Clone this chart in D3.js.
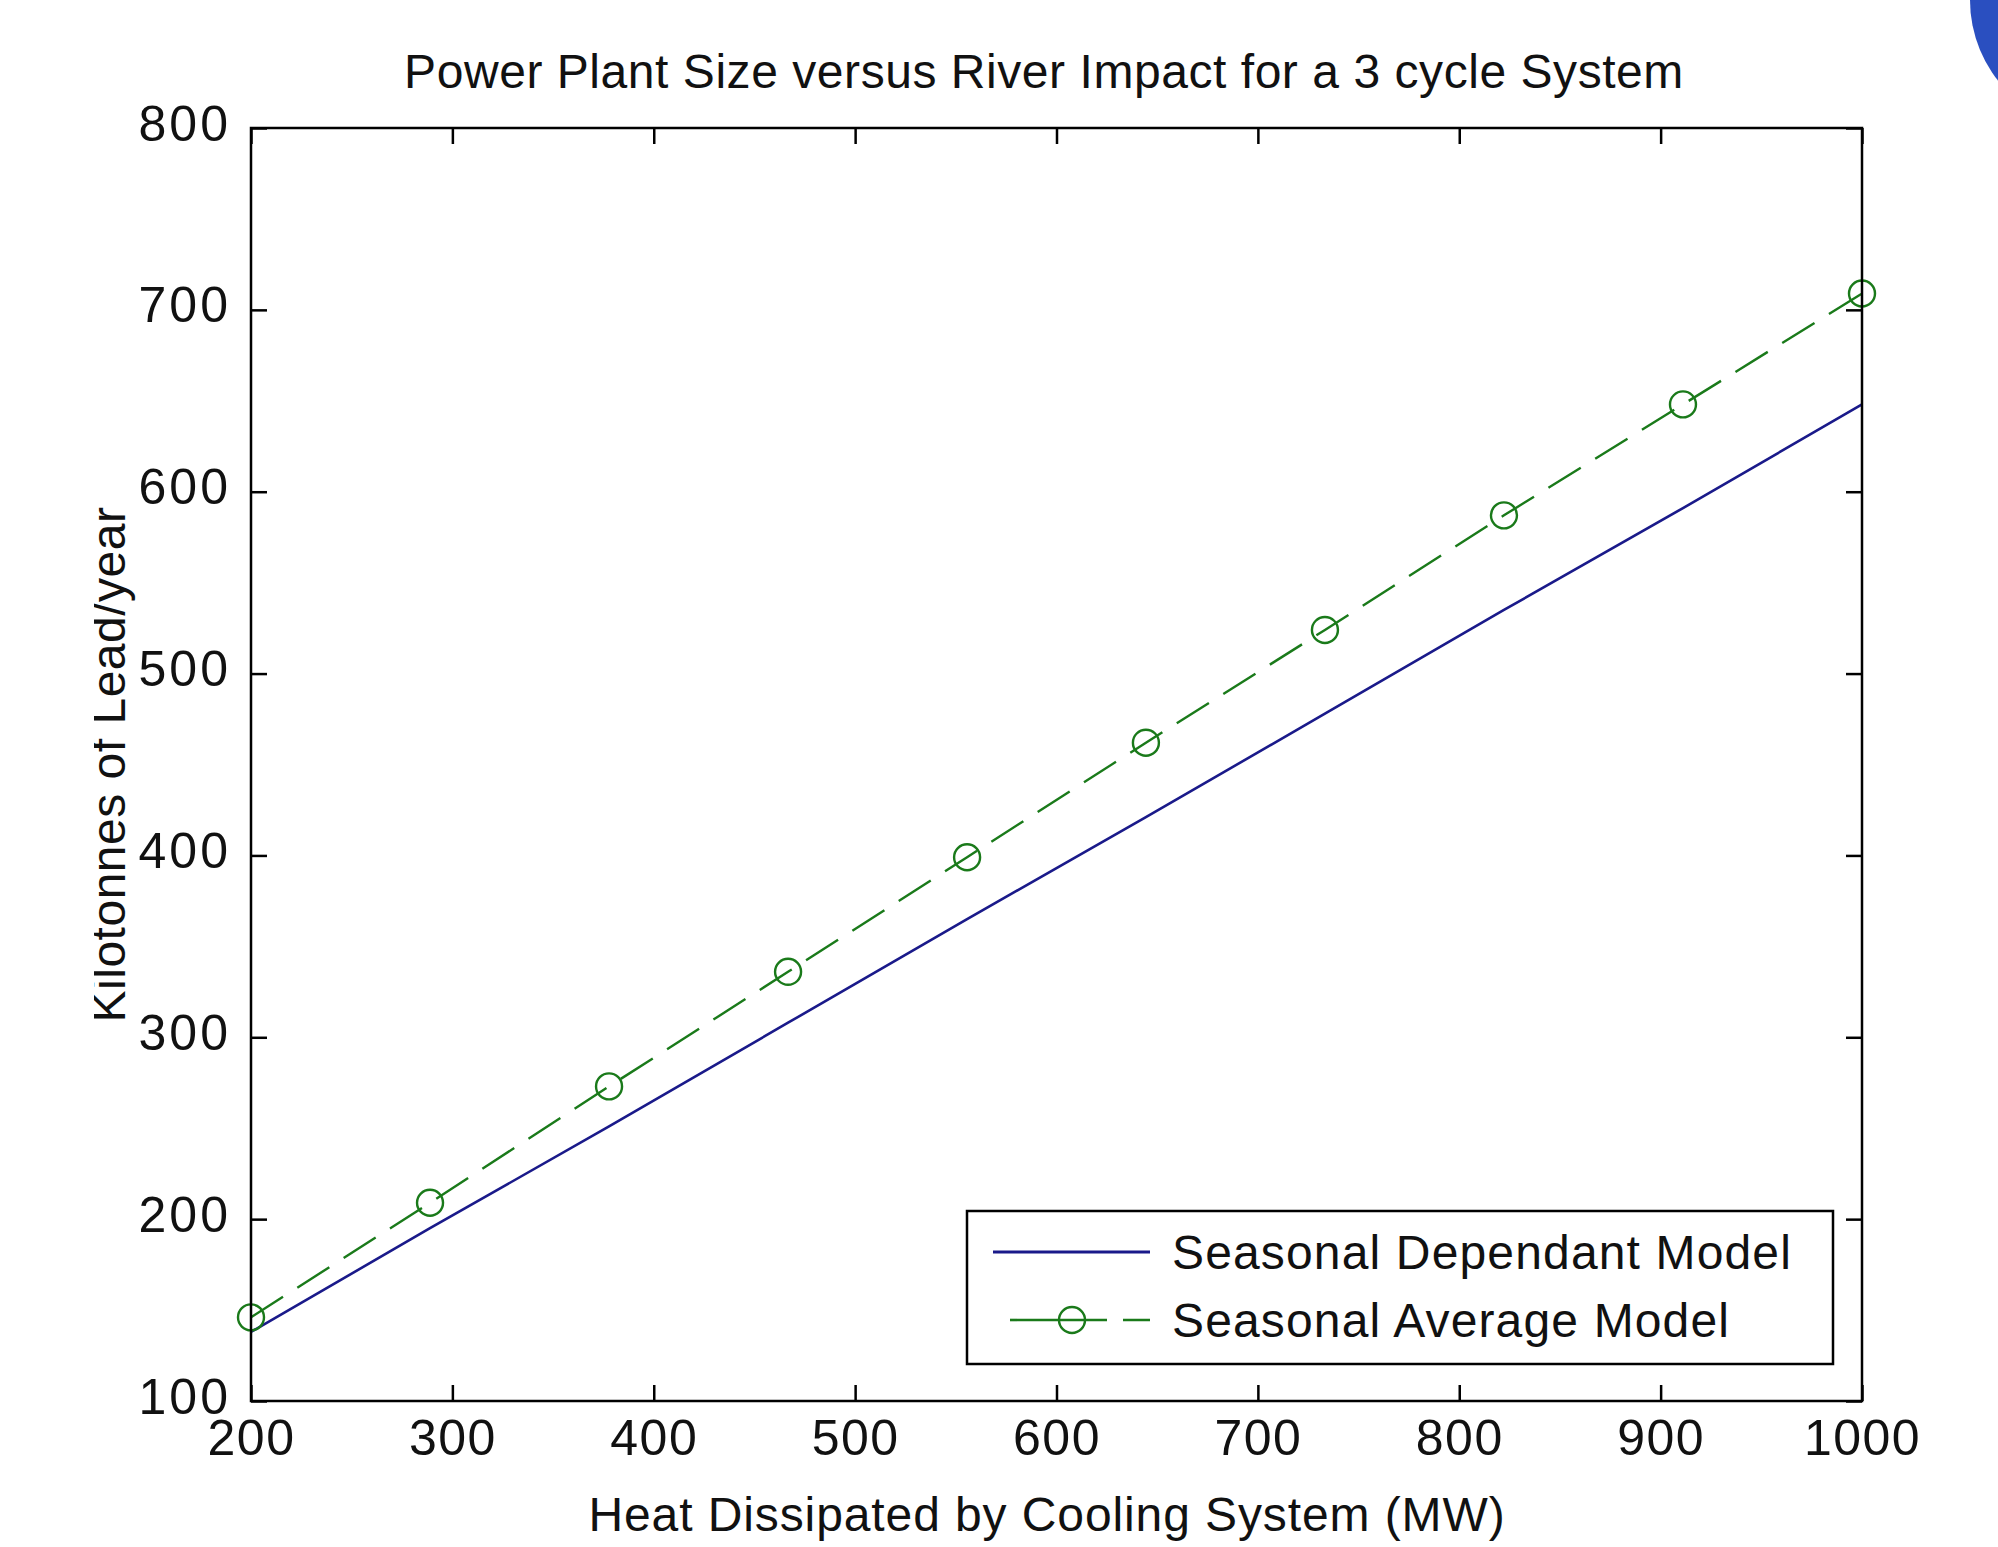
<!DOCTYPE html>
<html>
<head>
<meta charset="utf-8">
<script src="https://cdn.jsdelivr.net/npm/d3@7"></script>
<style>
  html, body { margin: 0; padding: 0; background: #fff; }
  svg { display: block; }
  text { font-family: "Liberation Sans", Arial, sans-serif; fill: #111; }
</style>
</head>
<body>
<script>
// ---- data ----
const heatMW = [200, 288.9, 377.8, 466.7, 555.6, 644.4, 733.3, 822.2, 911.1, 1000];
const seasonalDependant = [138, 195, 251, 308, 365, 421, 478, 535, 591, 648];
const seasonalAverage = [146, 209, 273, 336, 399, 462, 524, 587, 648, 709];
const xTicks = [200, 300, 400, 500, 600, 700, 800, 900, 1000];
const yTicks = [100, 200, 300, 400, 500, 600, 700, 800];
const seriesNames = ["Seasonal Dependant Model", "Seasonal Average Model"];
const titleText = "Power Plant Size versus River Impact for a 3 cycle System";
const xLabel = "Heat Dissipated by Cooling System (MW)";
const yLabel = "Kilotonnes of Lead/year";

// ---- layout ----
const W = 1998, H = 1547;
const L = 251, R = 1862, T = 128, B = 1401;
const FS = 48;
const blue = "#1a1a8a", green = "#1a7a1a";

const svg = d3.select("body").append("svg").attr("width", W).attr("height", H);
svg.append("rect").attr("width", W).attr("height", H).attr("fill", "#fff");

// stray blue corner shape seen in the picture
svg.append("circle").attr("cx", 2100).attr("cy", 0).attr("r", 130).attr("fill", "#2a4fc0");

const x = d3.scaleLinear().domain([200, 1000]).range([L, R]);
const y = d3.scaleLinear().domain([100, 800]).range([B, T]);
const fmt = d3.format("d");

// axes
const gB = svg.append("g").attr("transform", `translate(0,${B})`)
  .call(d3.axisBottom(x).tickValues(xTicks).tickFormat(fmt).tickSizeInner(-16).tickSizeOuter(0).tickPadding(18));
const gT = svg.append("g").attr("transform", `translate(0,${T})`)
  .call(d3.axisTop(x).tickValues(xTicks).tickSizeInner(-16).tickSizeOuter(0).tickFormat(""));
const gLft = svg.append("g").attr("transform", `translate(${L},0)`)
  .call(d3.axisLeft(y).tickValues(yTicks).tickFormat(fmt).tickSizeInner(-16).tickSizeOuter(0).tickPadding(20));
const gRt = svg.append("g").attr("transform", `translate(${R},0)`)
  .call(d3.axisRight(y).tickValues(yTicks).tickSizeInner(-16).tickSizeOuter(0).tickFormat(""));
[gB, gT, gLft, gRt].forEach(g => {
  g.select(".domain").remove();
  g.selectAll(".tick line").attr("stroke", "#000").attr("stroke-width", 2.5);
  g.selectAll(".tick text").style("font-size", "50px").attr("fill", "#111")
    .style("font-family", '"Liberation Sans", Arial, sans-serif');
});
gLft.selectAll(".tick text").style("letter-spacing", "3px").attr("dy", "0.24em");
gB.selectAll(".tick text").style("letter-spacing", "1.5px");

// series lines
const line = d3.line().x((d, i) => x(heatMW[i])).y(d => y(d));
svg.append("path").datum(seasonalDependant).attr("d", line)
  .attr("fill", "none").attr("stroke", blue).attr("stroke-width", 2.6);
svg.append("path").datum(seasonalAverage).attr("d", line)
  .attr("fill", "none").attr("stroke", green).attr("stroke-width", 2.4)
  .attr("stroke-dasharray", "38,17");
svg.append("g").selectAll("circle").data(seasonalAverage).join("circle")
  .attr("cx", (d, i) => x(heatMW[i])).attr("cy", d => y(d)).attr("r", 13)
  .attr("fill", "none").attr("stroke", green).attr("stroke-width", 2.4);

// axes box
svg.append("rect").attr("x", L).attr("y", T).attr("width", R - L).attr("height", B - T)
  .attr("fill", "none").attr("stroke", "#000").attr("stroke-width", 2.5);

// title & labels
svg.append("text").attr("x", 1044).attr("y", 88).attr("text-anchor", "middle")
  .style("font-size", FS + "px").style("letter-spacing", "0.55px").text(titleText);
svg.append("text").attr("x", 1047).attr("y", 1531).attr("text-anchor", "middle")
  .style("font-size", FS + "px").style("letter-spacing", "0.9px").text(xLabel);
svg.append("clipPath").attr("id", "yclip").append("rect")
  .attr("x", 94).attr("y", 0).attr("width", 200).attr("height", H);
svg.append("g").attr("clip-path", "url(#yclip)")
  .append("text").attr("transform", `translate(125,${(T + B) / 2}) rotate(-90)`)
  .attr("text-anchor", "middle").style("font-size", FS + "px").style("letter-spacing", "0.5px").text(yLabel);

// legend
const lg = svg.append("g");
lg.append("rect").attr("x", 967).attr("y", 1211).attr("width", 1833 - 967).attr("height", 1364 - 1211)
  .attr("fill", "#fff").attr("stroke", "#000").attr("stroke-width", 2.5);
const rows = [1252, 1320];
lg.append("line").attr("x1", 993).attr("x2", 1150).attr("y1", rows[0]).attr("y2", rows[0])
  .attr("stroke", blue).attr("stroke-width", 2.8);
lg.append("line").attr("x1", 1010).attr("x2", 1150).attr("y1", rows[1]).attr("y2", rows[1])
  .attr("stroke", green).attr("stroke-width", 2.6).attr("stroke-dasharray", "40,0,57,16");
lg.append("circle").attr("cx", 1072).attr("cy", rows[1]).attr("r", 13)
  .attr("fill", "none").attr("stroke", green).attr("stroke-width", 2.4);
lg.selectAll("text.lab").data(seriesNames).join("text").attr("class", "lab")
  .attr("x", 1172).attr("y", (d, i) => rows[i]).attr("dy", "0.35em")
  .style("font-size", FS + "px").style("letter-spacing", "1.15px").text(d => d);
</script>
</body>
</html>
